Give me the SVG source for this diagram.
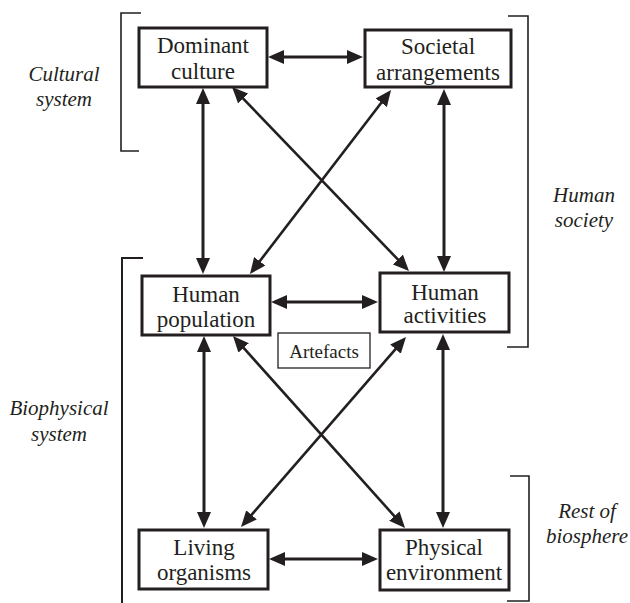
<svg xmlns="http://www.w3.org/2000/svg" width="630" height="603" viewBox="0 0 630 603">
<style>
  .box { fill: #ffffff; stroke: #231f20; stroke-width: 3; }
  .small { fill: #ffffff; stroke: #231f20; stroke-width: 1.3; }
  .lbl { font-family: "Liberation Serif", "Times New Roman", serif; font-size: 23px; fill: #231f20; text-anchor: middle; }
  .art { font-family: "Liberation Serif", "Times New Roman", serif; font-size: 19px; fill: #231f20; text-anchor: middle; }
  .it { font-family: "Liberation Serif", "Times New Roman", serif; font-size: 21px; font-style: italic; fill: #231f20; text-anchor: middle; }
  .br { fill: none; stroke: #231f20; stroke-width: 1.6; }
  .arr { fill: none; stroke: #231f20; stroke-width: 3; marker-start: url(#ah); marker-end: url(#ah); }
  .diag { fill: none; stroke: #231f20; stroke-width: 2.6; marker-start: url(#ah); marker-end: url(#ah); }
</style>
<defs>
  <marker id="ah" viewBox="0 0 16 14" refX="11" refY="7" markerWidth="16" markerHeight="14" markerUnits="userSpaceOnUse" orient="auto-start-reverse">
    <path d="M0,0 L16,7 L0,14 z" fill="#231f20"/>
  </marker>
</defs>
<rect width="630" height="603" fill="#ffffff"/>

<g id="brackets">
  <path class="br" d="M141,13 H121 V151 H139"/>
  <path class="br" d="M508,16 H528 V347 H507"/>
  <path class="br" d="M143,258 H122 V603" style="stroke-width:2"/>
  <path class="br" d="M510,476 H529 V601 H507"/>
</g>

<g id="group-labels">
  <text class="it" x="64" y="81">Cultural</text>
  <text class="it" x="64" y="106">system</text>
  <text class="it" x="584" y="202">Human</text>
  <text class="it" x="584" y="227">society</text>
  <text class="it" x="59" y="415">Biophysical</text>
  <text class="it" x="59" y="441">system</text>
  <text class="it" x="587" y="518">Rest of</text>
  <text class="it" x="587" y="543">biosphere</text>
</g>

<g id="connectors">
  <line class="arr" x1="273" y1="57" x2="358" y2="57"/>
  <line class="arr" x1="276" y1="302" x2="373" y2="302"/>
  <line class="arr" x1="274" y1="559" x2="373" y2="559"/>
  <line class="arr" x1="203" y1="93" x2="203" y2="269"/>
  <line class="arr" x1="444" y1="94" x2="444" y2="267"/>
  <line class="arr" x1="204" y1="341" x2="204" y2="523"/>
  <line class="arr" x1="443" y1="339" x2="443" y2="523"/>
  <line class="diag" x1="235.5" y1="90.6" x2="405.5" y2="267.4"/>
  <line class="diag" x1="388" y1="94" x2="253" y2="270"/>
  <line class="diag" x1="236.3" y1="339.7" x2="401.7" y2="524.3"/>
  <line class="diag" x1="402.7" y1="340.8" x2="244.3" y2="523.2"/>
</g>

<g id="dominant-culture">
  <rect class="box" x="139" y="28" width="128" height="59"/>
  <text class="lbl" x="203" y="53">Dominant</text>
  <text class="lbl" x="203" y="79">culture</text>
</g>
<g id="societal-arrangements">
  <rect class="box" x="365" y="30" width="146" height="57"/>
  <text class="lbl" x="438" y="54">Societal</text>
  <text class="lbl" x="438" y="80">arrangements</text>
</g>
<g id="human-population">
  <rect class="box" x="142" y="276" width="128" height="59"/>
  <text class="lbl" x="206" y="302">Human</text>
  <text class="lbl" x="206" y="327">population</text>
</g>
<g id="human-activities">
  <rect class="box" x="380" y="273" width="129" height="59"/>
  <text class="lbl" x="445" y="300">Human</text>
  <text class="lbl" x="445" y="323">activities</text>
</g>
<g id="artefacts">
  <rect class="small" x="278" y="333" width="92" height="35"/>
  <text class="art" x="324" y="358">Artefacts</text>
</g>
<g id="living-organisms">
  <rect class="box" x="139" y="530" width="129" height="59"/>
  <text class="lbl" x="204" y="555">Living</text>
  <text class="lbl" x="204" y="580">organisms</text>
</g>
<g id="physical-environment">
  <rect class="box" x="380" y="530" width="129" height="60"/>
  <text class="lbl" x="444" y="555">Physical</text>
  <text class="lbl" x="444" y="580">environment</text>
</g>
</svg>
